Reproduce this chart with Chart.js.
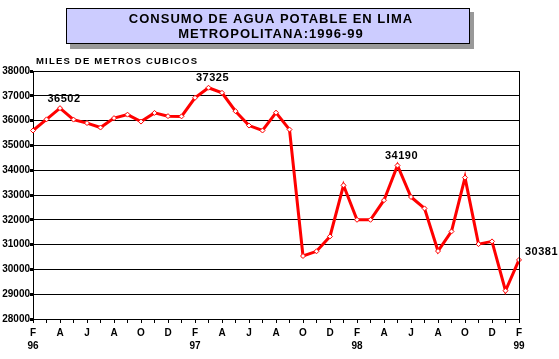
<!DOCTYPE html>
<html><head><meta charset="utf-8">
<script src="https://cdn.jsdelivr.net/npm/chart.js@4"></script>
<style>html,body{margin:0;padding:0;background:#fff}#c{display:block}</style>
</head><body><canvas id="c" width="559" height="359"></canvas>
<script>
const categories = [
  'Feb 96','Mar 96','Abr 96','May 96','Jun 96','Jul 96','Ago 96','Set 96','Oct 96','Nov 96','Dic 96','Ene 97',
  'Feb 97','Mar 97','Abr 97','May 97','Jun 97','Jul 97','Ago 97','Set 97','Oct 97','Nov 97','Dic 97','Ene 98',
  'Feb 98','Mar 98','Abr 98','May 98','Jun 98','Jul 98','Ago 98','Set 98','Oct 98','Nov 98','Dic 98','Ene 99',
  'Feb 99'
];
const values = [
  35600, 36050, 36502, 36040, 35900, 35720, 36100, 36240, 35960, 36310, 36180, 36170,
  36920, 37325, 37120, 36380, 35800, 35600, 36320, 35640, 30540, 30730, 31330, 33390,
  32000, 32000, 32790, 34190, 32920, 32460, 30740, 31530, 33700, 31020, 31130, 29140,
  30381
];
const tickLetters = [
  'F','','A','','J','','A','','O','','D','',
  'F','','A','','J','','A','','O','','D','',
  'F','','A','','J','','A','','O','','D','',
  'F'
];
const tickYears = {0:'96', 12:'97', 24:'98', 36:'99'};
const annotated = [2, 13, 27, 36];
const titleLines = ['CONSUMO DE AGUA POTABLE EN LIMA', 'METROPOLITANA:1996-99'];
const yTitle = 'MILES DE METROS CUBICOS';
const yMin = 28000, yMax = 38000, yStep = 1000;

const FONT = '"Liberation Sans", Arial, sans-serif';
Chart.defaults.font.family = FONT;
Chart.defaults.color = '#000';

const decor = {
  id: 'decor',
  beforeDraw(chart) {
    const ctx = chart.ctx;
    ctx.save();
    ctx.fillStyle = '#fff';
    ctx.fillRect(0, 0, chart.width, chart.height);
    // title box with shadow
    ctx.fillStyle = '#999999';
    ctx.fillRect(70, 12, 404, 37);
    ctx.fillStyle = '#ccccff';
    ctx.fillRect(66, 8, 404, 36);
    ctx.strokeStyle = '#000';
    ctx.lineWidth = 1;
    ctx.strokeRect(66.5, 8.5, 403, 35);
    ctx.fillStyle = '#000';
    ctx.font = 'bold 13px ' + FONT;
    ctx.letterSpacing = '1px';
    ctx.textAlign = 'center';
    ctx.textBaseline = 'middle';
    ctx.fillText(titleLines[0], 271, 19);
    ctx.fillText(titleLines[1], 271, 34);
    ctx.font = 'bold 9.5px ' + FONT;
    ctx.letterSpacing = '1.2px';
    ctx.textAlign = 'left';
    ctx.fillText(yTitle, chart.chartArea.left + 3, 61);
    ctx.restore();
  },
  afterDraw(chart) {
    const ctx = chart.ctx;
    const a = chart.chartArea;
    ctx.save();
    ctx.strokeStyle = '#000';
    ctx.lineWidth = 1;
    ctx.beginPath();
    ctx.moveTo(Math.round(a.right) + 0.5, a.top);
    ctx.lineTo(Math.round(a.right) + 0.5, a.bottom);
    ctx.stroke();
    const meta = chart.getDatasetMeta(0);
    ctx.fillStyle = '#000';
    ctx.font = 'bold 11px ' + FONT;
    ctx.letterSpacing = '0.5px';
    annotated.forEach((i, k) => {
      const p = meta.data[i];
      const txt = String(values[i]);
      if (k === annotated.length - 1) {
        ctx.textAlign = 'left';
        ctx.textBaseline = 'middle';
        ctx.fillText(txt, p.x + 6, p.y - 8);
      } else {
        ctx.textAlign = 'center';
        ctx.textBaseline = 'bottom';
        ctx.fillText(txt, p.x + 4, p.y - 4);
      }
    });
    ctx.restore();
  }
};

new Chart(document.getElementById('c'), {
  type: 'line',
  data: {
    labels: categories,
    datasets: [{
      data: values,
      borderColor: '#ff0000',
      borderWidth: 3,
      pointStyle: 'rectRot',
      pointRadius: 2.5,
      pointBackgroundColor: '#ffffff',
      pointBorderColor: '#ff0000',
      pointBorderWidth: 1,
      tension: 0
    }]
  },
  options: {
    responsive: false,
    animation: false,
    devicePixelRatio: 1,
    layout: { padding: { left: 0, right: 40, top: 71, bottom: 0 } },
    plugins: { legend: { display: false }, tooltip: { enabled: false } },
    scales: {
      x: {
        offset: false,
        afterFit(s) { s.height = 40; },
        grid: { drawOnChartArea: false, drawTicks: true, tickLength: 4, tickColor: '#000', tickWidth: 1 },
        border: { display: true, color: '#000', width: 1 },
        ticks: {
          autoSkip: false, maxRotation: 0, minRotation: 0, padding: 3,
          font: { size: 10, weight: 'bold', lineHeight: 1.35 },
          callback(v, i) { return tickYears[i] ? [tickLetters[i], tickYears[i]] : tickLetters[i]; }
        }
      },
      y: {
        min: yMin, max: yMax,
        afterFit(s) { s.width = 33; },
        grid: { color: '#000', lineWidth: 1, drawTicks: true, tickLength: 3, tickWidth: 3, tickColor: '#000' },
        border: { display: true, color: '#000', width: 1 },
        ticks: { stepSize: yStep, padding: 0, font: { size: 10, weight: 'bold' }, callback(v) { return String(v); } }
      }
    }
  },
  plugins: [decor]
});
</script>
</body></html>
